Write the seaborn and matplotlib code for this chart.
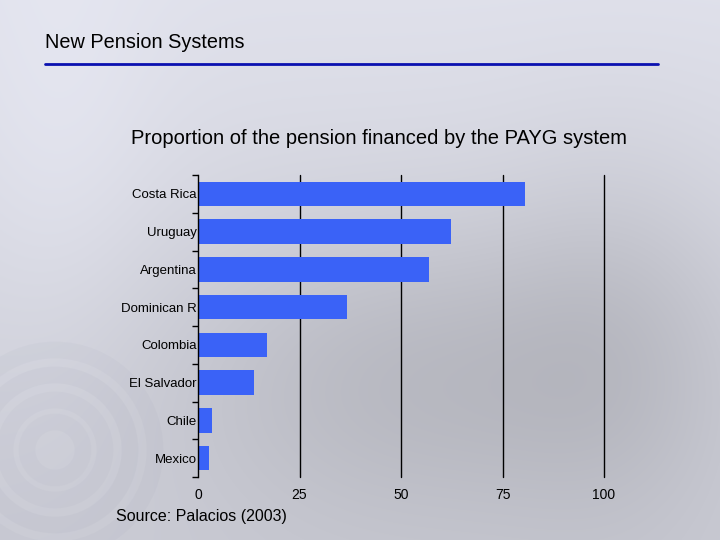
import numpy as np
import pandas as pd
import matplotlib
matplotlib.use('Agg')
import matplotlib.pyplot as plt
from matplotlib.patches import Circle
import seaborn as sns

# Datos
paises = ['Costa Rica', 'Uruguay', 'Argentina', 'Dominican R', 'Colombia',
          'El Salvador', 'Chile', 'Mexico']
payg = [80.5, 62.4, 56.8, 36.8, 16.9, 13.7, 3.4, 2.6]
xticks = [0, 25, 50, 75, 100]

df = pd.DataFrame({'pais': paises, 'payg': payg})

sns.set_theme(style='white')
plt.rcParams['font.family'] = ['Liberation Sans', 'DejaVu Sans']
plt.rcParams['text.color'] = 'black'
plt.rcParams['xtick.color'] = 'black'
plt.rcParams['ytick.color'] = 'black'

fig = plt.figure(figsize=(7.2, 5.4), dpi=100)

# fondo tipo diapositiva (degradado gris azulado)
bg = fig.add_axes([0, 0, 1, 1], zorder=0)
yy, xx = np.mgrid[0:540, 0:720]
val = 0.89 - 0.08 * (yy / 540.0)
val -= 0.10 * np.exp(-(((xx - 430) / 260.0) ** 2 + ((yy - 370) / 160.0) ** 2))
val -= 0.05 * np.exp(-(((xx - 620) / 120.0) ** 2 + ((yy - 330) / 200.0) ** 2))
val += 0.03 * np.exp(-(((xx - 60) / 100.0) ** 2 + ((yy - 150) / 220.0) ** 2))
img = np.dstack([val * 0.985, val * 0.99, val * 1.035]).clip(0, 1)
bg.imshow(img, extent=[0, 720, 540, 0], aspect='auto')
for r, a in [(100, 0.06), (75, 0.07), (50, 0.06), (28, 0.05)]:
    bg.add_patch(Circle((55, 450), r, fill=False, lw=12, ec='#8d92a8', alpha=a))
bg.set_xlim(0, 720)
bg.set_ylim(540, 0)
bg.axis('off')

# titulo de la diapositiva
fig.text(45 / 720, 1 - 43 / 540, 'New Pension Systems', fontsize=14.3,
         va='center', ha='left')
bg.plot([45, 658], [64, 64], color='#0a10b0', lw=2)

# grafico de barras
ax = fig.add_axes([198 / 720, 1 - 477 / 540, 406 / 720, 302 / 540], zorder=1)
ax.patch.set_alpha(0)
sns.barplot(data=df, x='payg', y='pais', orient='h', color='#3a62f7',
            saturation=1, width=0.65, linewidth=0, ax=ax)
ax.set_xlim(0, 100)
ax.set_ylim(7.5, -0.5)
ax.set_xticks(xticks)
ax.set_xticklabels([str(t) for t in xticks], fontsize=10)
ax.tick_params(axis='x', length=0, pad=8)
ax.tick_params(axis='y', which='major', length=0, pad=1, labelsize=9.5)
ax.set_yticks(np.arange(-0.5, 8, 1), minor=True)
ax.tick_params(axis='y', which='minor', length=4, width=1, color='black', left=True)
for t in xticks[1:]:
    ax.axvline(t, color='black', lw=1, zorder=0, clip_on=False)
for s in ['top', 'right', 'bottom']:
    ax.spines[s].set_visible(False)
ax.spines['left'].set_color('black')
ax.spines['left'].set_linewidth(1)
ax.set_xlabel('')
ax.set_ylabel('')

fig.text(379 / 720, 1 - 138 / 540,
         'Proportion of the pension financed by the PAYG system',
         fontsize=14.5, ha='center', va='center')
fig.text(116 / 720, 1 - 516 / 540, 'Source: Palacios (2003)', fontsize=11.5,
         ha='left', va='center')

fig.savefig('out.png', dpi=100)
